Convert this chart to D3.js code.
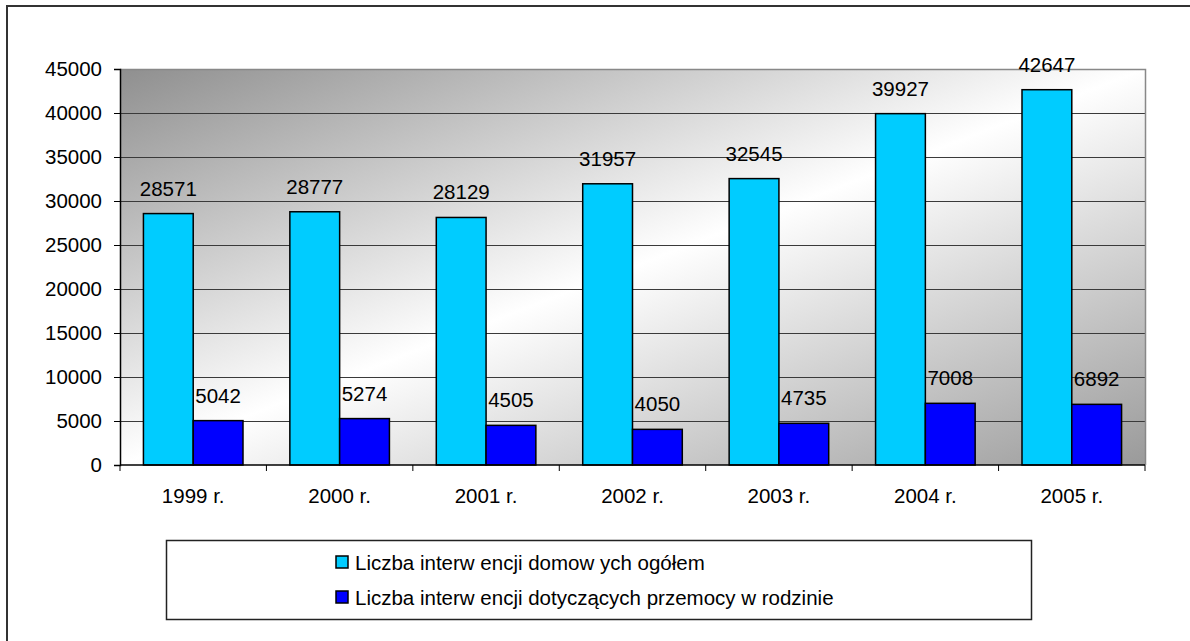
<!DOCTYPE html>
<html><head><meta charset="utf-8">
<script src="https://cdn.jsdelivr.net/npm/d3@7/dist/d3.min.js"></script>
<style>body{margin:0;background:#fff}svg{display:block}text{font-family:"Liberation Sans",Arial,sans-serif;fill:#000}</style>
</head><body>
<svg id="c" width="1190" height="641"></svg>
<script>
const categories = ["1999 r.","2000 r.","2001 r.","2002 r.","2003 r.","2004 r.","2005 r."];
const seriesNames = ["Liczba interw encji domow ych ogółem","Liczba interw encji dotyczących przemocy w  rodzinie"];
const seriesTotal = [28571,28777,28129,31957,32545,39927,42647];
const seriesViolence = [5042,5274,4505,4050,4735,7008,6892];
const yTicks = [0,5000,10000,15000,20000,25000,30000,35000,40000,45000];
const colors = ["#00CCFF","#0000FF"];

const svg = d3.select("#c");
const L=120,R=1145,T=69,B=465;
const FS=20.5;

// outer border
svg.append("path").attr("d","M7,700 L7,6 L1200,6").attr("fill","none").attr("stroke","#333").attr("stroke-width",2);

const defs = svg.append("defs");
const g = defs.append("linearGradient").attr("id","bg").attr("x1",0).attr("y1",0).attr("x2",1).attr("y2",1);
g.append("stop").attr("offset","0").attr("stop-color","#8f8f8f");
g.append("stop").attr("offset","0.5").attr("stop-color","#ffffff");
g.append("stop").attr("offset","1").attr("stop-color","#9a9a9a");

const x0 = d3.scaleBand().domain(categories).range([L,R]).paddingInner(0.32).paddingOuter(0.16);
const x1 = d3.scaleBand().domain([0,1]).range([0,x0.bandwidth()]);
const y = d3.scaleLinear().domain([0,45000]).range([B,T]);

svg.append("rect").attr("x",L).attr("y",T).attr("width",R-L).attr("height",B-T).attr("fill","url(#bg)");
// gridlines
svg.append("g").selectAll("line").data(yTicks.filter(v=>v>0&&v<45000)).join("line")
  .attr("x1",L).attr("x2",R).attr("y1",d=>Math.round(y(d))+0.5).attr("y2",d=>Math.round(y(d))+0.5)
  .attr("stroke","#3a3a3a").attr("stroke-width",1);
// top & right border
svg.append("path").attr("d",`M${L},${T+0.5} L${R+0.5},${T+0.5} L${R+0.5},${B}`).attr("fill","none").attr("stroke","#888").attr("stroke-width",1.5);

// bars
const data = categories.map((c,i)=>({c,vals:[seriesTotal[i],seriesViolence[i]]}));
const grp = svg.append("g").selectAll("g").data(data).join("g").attr("transform",d=>`translate(${x0(d.c)},0)`);
grp.selectAll("rect").data(d=>d.vals.map((v,k)=>({v,k}))).join("rect")
  .attr("x",d=>x1(d.k)).attr("width",x1.bandwidth())
  .attr("y",d=>y(d.v)).attr("height",d=>B-y(d.v))
  .attr("fill",d=>colors[d.k]).attr("stroke","#000").attr("stroke-width",1.5);
grp.selectAll("text").data(d=>d.vals.map((v,k)=>({v,k}))).join("text")
  .attr("x",d=>x1(d.k)+x1.bandwidth()/2).attr("y",d=>y(d.v)-18)
  .attr("text-anchor","middle").attr("font-size",FS).text(d=>d.v);

// axes
const ya = svg.append("g").attr("transform",`translate(${L},0)`)
  .call(d3.axisLeft(y).tickValues(yTicks).tickSize(6).tickPadding(12).tickFormat(d3.format("d")));
ya.select(".domain").attr("stroke","#000").attr("stroke-width",1.5);
ya.selectAll(".tick line").attr("stroke","#000");
ya.selectAll(".tick text").attr("font-size",FS).attr("font-family",null).attr("fill","#000");

const xa = svg.append("g").attr("transform",`translate(0,${B})`);
xa.append("line").attr("x1",L).attr("x2",R).attr("stroke","#000").attr("stroke-width",1.5);
const bounds = categories.map(c=>x0(c)-x0.step()*0.16).concat([R]);
xa.selectAll(".tk").data(bounds).join("line").attr("class","tk")
  .attr("x1",d=>d).attr("x2",d=>d).attr("y1",0).attr("y2",6).attr("stroke","#000");
xa.selectAll(".lb").data(categories).join("text").attr("class","lb")
  .attr("x",d=>x0(d)+x0.bandwidth()/2).attr("y",38)
  .attr("text-anchor","middle").attr("font-size",FS).text(d=>d);

// legend
const lg = svg.append("g");
lg.append("rect").attr("x",166.5).attr("y",540.5).attr("width",865).attr("height",79).attr("fill","#fff").attr("stroke","#222").attr("stroke-width",1.5);
const items = lg.selectAll("g").data(seriesNames).join("g").attr("transform",(d,i)=>`translate(336,${562+i*35})`);
items.append("rect").attr("x",0).attr("y",-6).attr("width",12).attr("height",12).attr("fill",(d,i)=>colors[i]).attr("stroke","#000").attr("stroke-width",1.5);
items.append("text").attr("x",19).attr("y",7.5).attr("font-size",FS).text(d=>d);
</script>
</body></html>
